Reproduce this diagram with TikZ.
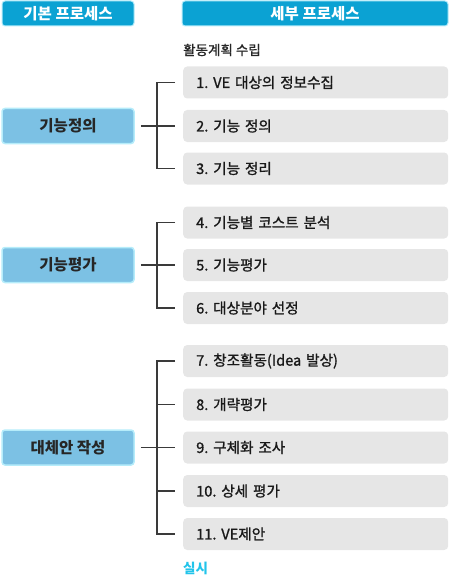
\documentclass[tikz,border=0pt]{standalone}
\usepackage{fontspec}
\setmainfont{Noto Sans CJK KR}
\newfontfamily\taskfont[FakeBold=1.2]{Noto Sans CJK KR}
\usepackage{tikz}
\usetikzlibrary{positioning}
\frenchspacing
\definecolor{headblue}{HTML}{0BA2D3}
\definecolor{stepblue}{HTML}{7CC1E4}
\definecolor{glowblue}{HTML}{B5ECFA}
\definecolor{boxgray}{HTML}{E6E6E6}
\definecolor{linegray}{HTML}{3A3A3A}
\definecolor{doneblue}{HTML}{22C4EA}
\tikzset{headbox/.style={draw=glowblue, line width=1pt, fill=headblue, rounded corners=3pt,
    minimum height=25pt, text=white, font=\bfseries\fontsize{15.5}{15.5}\selectfont}}
\tikzset{stagebox/.style={draw=glowblue, line width=1.5pt, fill=stepblue, rounded corners=3pt,
    minimum width=132pt, minimum height=35pt, text=black!85, font=\bfseries\fontsize{15.5}{15.5}\selectfont}}
\tikzset{taskbox/.style={fill=boxgray, rounded corners=4pt, anchor=west,
    text width=239pt, inner xsep=13pt, minimum height=32pt, align=left,
    text=black!90, font=\taskfont\fontsize{14.6}{14.6}\selectfont}}
\tikzset{conn/.style={draw=linegray, line width=1.1pt}}

\begin{document}
\begin{tikzpicture}[x=1pt, y=-1pt]
    \useasboundingbox (0,0) rectangle (450,575);

    \node[headbox, minimum width=132pt] (H1) at (68,13.5) {기본 프로세스};
    \node[headbox, minimum width=266pt] (H2) at (315,13.5) {세부 프로세스};

    \node[anchor=west, inner sep=0pt, text=black!85, font=\taskfont\fontsize{13.5}{13.5}\selectfont] (plan) at (183,50) {활동계획 수립};

    \node[taskbox] (S1) at (183,82.5) {1. VE 대상의 정보수집};
    \node[taskbox] (S2) at (183,126) {2. 기능 정의};
    \node[taskbox] (S3) at (183,168.5) {3. 기능 정리};
    \node[taskbox] (S4) at (183,222.5) {4. 기능별 코스트 분석};
    \node[taskbox] (S5) at (183,265) {5. 기능평가};
    \node[taskbox] (S6) at (183,308) {6. 대상분야 선정};
    \node[taskbox] (S7) at (183,361) {7. 창조활동(Idea 발상)};
    \node[taskbox] (S8) at (183,404.5) {8. 개략평가};
    \node[taskbox] (S9) at (183,447.5) {9. 구체화 조사};
    \node[taskbox] (S10) at (183,491) {10. 상세 평가};
    \node[taskbox] (S11) at (183,534) {11. VE제안};

    \node[anchor=west, inner sep=0pt, text=doneblue, font=\bfseries\fontsize{13.5}{13.5}\selectfont] (done) at (183,568) {실시};

    \node[stagebox] (P1) at (68,126) {기능정의};
    \node[stagebox] (P2) at (68,265) {기능평가};
    \node[stagebox] (P3) at (68,447.5) {대체안 작성};

    % brackets
    \draw[conn] ([xshift=-8pt]S1.west) -- ++(-18,0) |- ([xshift=-8pt]S3.west);
    \draw[conn] ([xshift=6pt]P1.east) -- ([xshift=-8pt]S2.west);

    \draw[conn] ([xshift=-8pt]S4.west) -- ++(-18,0) |- ([xshift=-8pt]S6.west);
    \draw[conn] ([xshift=6pt]P2.east) -- ([xshift=-8pt]S5.west);

    \draw[conn] ([xshift=-8pt]S7.west) -- ++(-18,0) |- ([xshift=-8pt]S11.west);
    \draw[conn] ([xshift=-26pt]S8.west) -- ([xshift=-8pt]S8.west);
    \draw[conn] ([xshift=6pt]P3.east) -- ([xshift=-8pt]S9.west);
    \draw[conn] ([xshift=-26pt]S10.west) -- ([xshift=-8pt]S10.west);

\end{tikzpicture}
\end{document}
